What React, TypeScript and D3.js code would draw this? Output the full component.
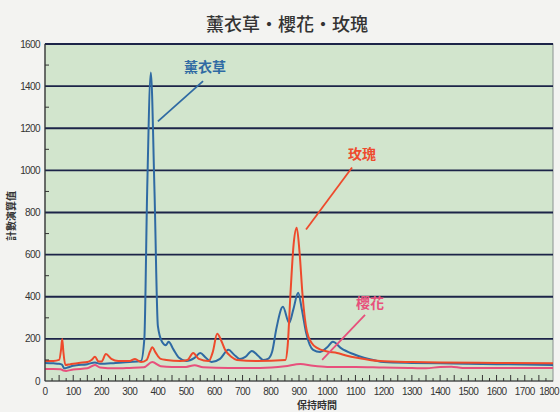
import React from 'react';
import * as d3 from 'd3';

type Pt = [number, number];

const title = '薰衣草・櫻花・玫瑰';
const yTitle = '計數演算值';
const xTitle = '保持時間';

const xTicks = [0, 100, 200, 300, 400, 500, 600, 700, 800, 900, 1000, 1100, 1200, 1300, 1400, 1500, 1600, 1700, 1800];
const yTicks = [0, 200, 400, 600, 800, 1000, 1200, 1400, 1600];

const lavender: Pt[] = [
  [0, 86], [30, 84], [50, 82], [60, 78], [68, 60], [80, 64], [100, 72], [150, 80], [177, 88], [195, 82],
  [250, 86], [300, 90], [340, 95], [352, 200], [362, 900], [375, 1465], [388, 900], [400, 260], [415, 185],
  [428, 170], [438, 186], [455, 150], [475, 110], [500, 95], [530, 110], [550, 133], [570, 110], [590, 90],
  [620, 105], [650, 148], [670, 125], [690, 105], [710, 115], [733, 143], [755, 120], [773, 100], [790, 105],
  [805, 140], [820, 250], [843, 352], [865, 276], [880, 340], [897, 419], [910, 340], [925, 230], [950, 148],
  [975, 138], [1000, 160], [1020, 186], [1050, 155], [1092, 128], [1130, 110], [1163, 100], [1200, 90],
  [1300, 86], [1400, 84], [1500, 82], [1600, 80], [1700, 78], [1800, 76],
];

const rose: Pt[] = [
  [0, 95], [30, 95], [50, 100], [57, 150], [61, 200], [65, 140], [72, 76], [90, 80], [120, 86], [150, 90],
  [165, 100], [177, 115], [190, 92], [200, 92], [216, 128], [235, 105], [260, 95], [300, 95], [319, 105],
  [340, 90], [360, 100], [372, 140], [380, 160], [392, 135], [410, 105], [430, 100], [480, 95], [505, 100],
  [525, 133], [545, 105], [580, 95], [595, 140], [610, 224], [625, 190], [638, 148], [660, 115], [680, 100],
  [750, 95], [852, 100], [860, 170], [870, 420], [881, 650], [892, 728], [902, 610], [913, 400], [928, 235],
  [945, 180], [964, 157], [1000, 140], [1035, 133], [1070, 120], [1106, 110], [1150, 100], [1187, 95],
  [1300, 90], [1400, 88], [1600, 86], [1800, 84],
];

const sakura: Pt[] = [
  [0, 57], [30, 57], [55, 56], [65, 50], [75, 48], [100, 55], [150, 60], [177, 76], [195, 64], [250, 60],
  [300, 62], [350, 65], [380, 90], [410, 70], [450, 67], [500, 67], [530, 75], [560, 65], [650, 62], [762, 62],
  [850, 70], [905, 81], [950, 72], [1000, 67], [1100, 67], [1200, 64], [1300, 62], [1350, 60], [1400, 67],
  [1440, 68], [1480, 62], [1600, 62], [1800, 62],
];

// name, colour, data, label position and leader line in data space
const series = [
  { name: '薰衣草', color: '#2f6aa3', data: lavender, label: [567, 1490] as Pt, leader: [[560, 1424], [400, 1233]] as Pt[] },
  { name: '玫瑰', color: '#ee4a2c', data: rose, label: [1123, 1076] as Pt, leader: [[1088, 1014], [925, 719]] as Pt[] },
  { name: '櫻花', color: '#e8507c', data: sakura, label: [1152, 371] as Pt, leader: [[1134, 314], [982, 100]] as Pt[] },
];

const W = 560;
const H = 412;
const m = { left: 45, right: 7, top: 44, bottom: 31 };

export default function App() {
  const x = d3.scaleLinear().domain([0, 1800]).range([m.left, W - m.right]);
  const y = d3.scaleLinear().domain([0, 1600]).range([H - m.bottom, m.top]);

  const line = d3.line<Pt>()
    .x(d => x(d[0]))
    .y(d => y(d[1]))
    .curve(d3.curveMonotoneX);

  const font = '"Liberation Sans", Arial, sans-serif';
  const cjk = '"Noto Sans CJK TC", "Noto Sans CJK SC", sans-serif';
  const minorX = d3.range(25, 1800, 25);
  const minorY = d3.range(100, 1600, 200);
  const lastTick = xTicks[xTicks.length - 1];

  return (
    <svg width={W} height={H} style={{ position: 'absolute', left: 0, top: 0 }}>
      <rect width={W} height={H} fill="#f3f3f1" />
      <text x={287} y={31} textAnchor="middle" fontFamily={cjk} fontSize={18} fontWeight={500} fill="#333">
        {title}
      </text>

      <rect x={x(0)} y={y(1600)} width={x(1800) - x(0)} height={y(0) - y(1600)} fill="#d2e5cd" stroke="#8a9290" strokeWidth={1} />

      {yTicks.filter(v => v > 0).map(v => (
        <line key={v} x1={x(0)} x2={x(1800)} y1={y(v)} y2={y(v)} stroke="#1c2448" strokeWidth={1.8} />
      ))}

      {series.map(s => (
        <path key={s.name} d={line(s.data) ?? ''} fill="none" stroke={s.color} strokeWidth={2} strokeLinejoin="round" />
      ))}

      {/* axes */}
      <line x1={x(0)} x2={x(0)} y1={y(0)} y2={y(1600)} stroke="#333" strokeWidth={1.2} />
      <line x1={x(0)} x2={x(1800)} y1={y(0)} y2={y(0)} stroke="#333" strokeWidth={1.2} />
      {minorY.map(v => (
        <line key={v} x1={x(0)} x2={x(0) + 4} y1={y(v)} y2={y(v)} stroke="#333" strokeWidth={1} />
      ))}
      {minorX.map(t => (
        <line key={t} x1={x(t)} x2={x(t)} y1={y(0)} y2={y(0) - (t % 50 === 0 ? 6 : 3)} stroke="#333" strokeWidth={1} />
      ))}

      {yTicks.map(v => (
        <text key={v} x={x(0) - 5} y={y(v) + 3.5} textAnchor="end" fontFamily={font} fontSize={10} letterSpacing={-0.6} fill="#333">
          {v}
        </text>
      ))}
      {xTicks.map(t => (
        <text key={t} x={t === lastTick ? W - 1 : x(t)} y={y(0) + 14} textAnchor={t === lastTick ? 'end' : 'middle'}
          fontFamily={font} fontSize={10} letterSpacing={-0.6} fill="#333">
          {t}
        </text>
      ))}

      <text transform={`translate(15,${216}) rotate(-90)`} textAnchor="middle" fontFamily={cjk} fontSize={10} fontWeight={700} fill="#333">
        {yTitle}
      </text>
      <text x={317} y={409} textAnchor="middle" fontFamily={cjk} fontSize={10} fontWeight={700} fill="#333">
        {xTitle}
      </text>

      {series.map(s => (
        <g key={s.name + '-label'}>
          <line x1={x(s.leader[0][0])} y1={y(s.leader[0][1])} x2={x(s.leader[1][0])} y2={y(s.leader[1][1])} stroke={s.color} strokeWidth={1.8} />
          <text x={x(s.label[0])} y={y(s.label[1]) + 5} textAnchor="middle" fontFamily={cjk} fontSize={14} fontWeight={700} fill={s.color}>
            {s.name}
          </text>
        </g>
      ))}
    </svg>
  );
}
